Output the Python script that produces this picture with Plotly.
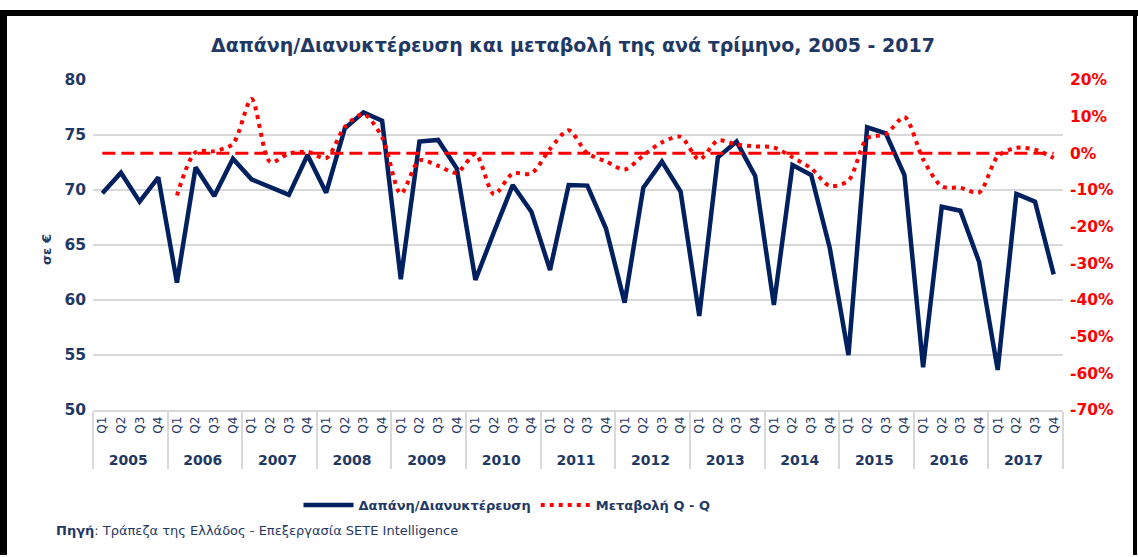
import plotly.graph_objects as go

# ---------------- data ----------------
years = [str(y) for y in range(2005, 2018)]
quarters = ["Q1", "Q2", "Q3", "Q4"]

# Δαπάνη/Διανυκτέρευση (σε €), 2005Q1 .. 2017Q4
spend = [69.7, 71.57, 68.94, 71.15,
         61.57, 72.06, 69.45, 72.85,
         70.97, 70.27, 69.55, 73.18,
         69.76, 75.6, 77.06, 76.3,
         61.88, 74.4, 74.55, 71.97,
         61.82, 66.2, 70.45, 68.03,
         62.73, 70.45, 70.4, 66.5,
         59.76, 70.2, 72.58, 69.85,
         58.55, 72.97, 74.4, 71.27,
         59.55, 72.27, 71.36, 64.7,
         55.0, 75.7, 75.15, 71.36,
         53.88, 68.48, 68.12, 63.48,
         53.64, 69.64, 68.94, 62.33]

# Μεταβολή Q - Q (%), 2006Q1 .. 2017Q4
change = [-11.5, 0.3, 0.6, 2.6,
          14.8, -2.4, -0.1, 0.4,
          -1.3, 7.2, 10.7, 4.4,
          -11.0, -1.9, -3.4, -5.3,
          -0.2, -11.2, -5.5, -5.5,
          1.2, 6.3, 0.0, -2.2,
          -4.4, -0.6, 3.0, 4.5,
          -1.7, 3.5, 2.4, 1.9,
          1.6, -1.1, -4.1, -8.9,
          -7.4, 4.1, 5.2, 9.9,
          -1.6, -9.0, -9.4, -10.7,
          -0.8, 1.5, 1.0, -1.3]
change_start_year = "2006"

left_ticks = [50, 55, 60, 65, 70, 75, 80]
right_ticks = [-70, -60, -50, -40, -30, -20, -10, 0, 10, 20]
right_labels = ["%d%%" % v for v in right_ticks]

# ---------------- style ----------------
NAVY = "#002060"
TXT = "#1F3864"
RED = "#FF0000"
GRID = "#D9D9D9"
FONT = "DejaVu Sans"

def year_label(y):
    return '<span style="font-size:14px"><b>%s</b></span>' % y

def quarter_label(q):
    return "\u00a0\u00a0" + q

x_year = [year_label(y) for y in years for q in quarters]
x_q = [quarter_label(q) for y in years for q in quarters]
start = years.index(change_start_year) * len(quarters)
cx_year = x_year[start:start + len(change)]
cx_q = x_q[start:start + len(change)]
baseline = [0.0] * len(x_q)

fig = go.Figure()
fig.add_trace(go.Scatter(
    x=[x_year, x_q], y=baseline, yaxis="y2", mode="lines",
    line=dict(color=RED, width=3, dash="13px,6px"),
    showlegend=False, hoverinfo="skip"))
fig.add_trace(go.Scatter(
    x=[x_year, x_q], y=spend, mode="lines", name="Δαπάνη/Διανυκτέρευση",
    line=dict(color=NAVY, width=4.5)))
fig.add_trace(go.Scatter(
    x=[cx_year, cx_q], y=change, yaxis="y2", mode="lines", name="Μεταβολή Q - Q",
    line=dict(color=RED, width=4, dash="4px,5px", shape="spline", smoothing=0.8)))

W, H = 1138, 557
L, R, T, B = 93, 75, 80, 147
pw, ph = W - L - R, H - T - B

def xp(px):
    return (px - L) / pw

def yp(py):
    return (H - B - py) / ph

shapes = [
    dict(type="rect", xref="paper", yref="paper", x0=xp(0), x1=xp(W), y0=yp(16), y1=yp(10),
         fillcolor="black", line=dict(width=0), layer="above"),
    dict(type="rect", xref="paper", yref="paper", x0=xp(0), x1=xp(7), y0=yp(555), y1=yp(10),
         fillcolor="black", line=dict(width=0), layer="above"),
    dict(type="rect", xref="paper", yref="paper", x0=xp(1133), x1=xp(1137), y0=yp(555), y1=yp(10),
         fillcolor="black", line=dict(width=0), layer="above"),
]

fig.update_layout(
    width=W, height=H,
    margin=dict(l=L, r=R, t=T, b=B),
    paper_bgcolor="white", plot_bgcolor="white",
    font=dict(family=FONT, color=TXT),
    title=dict(text="<b>Δαπάνη/Διανυκτέρευση και μεταβολή της ανά τρίμηνο, 2005 - 2017</b>",
               font=dict(family=FONT, size=19, color=TXT),
               x=573 / W, xanchor="center", y=1 - 45 / H, yanchor="middle", xref="container", yref="container"),
    xaxis=dict(range=[-0.5, len(x_q) - 0.5], tickangle=-90,
               tickfont=dict(family=FONT, size=12, color=TXT),
               showdividers=True, dividercolor=GRID, dividerwidth=1.5,
               showline=True, linecolor=GRID, linewidth=1.5, showgrid=False,
               ticks="", automargin=False),
    yaxis=dict(range=[50, 80], tickvals=left_ticks, showgrid=True, gridcolor=GRID, gridwidth=1.5,
               zeroline=False, showline=False,
               tickfont=dict(family=FONT, size=15.5, color=TXT, weight="bold"),
               ticklabelstandoff=6, automargin=False),
    yaxis2=dict(range=[-70, 20], tickvals=right_ticks, ticktext=right_labels, overlaying="y", side="right",
                showgrid=False, zeroline=False, showline=False,
                tickfont=dict(family=FONT, size=15.5, color=RED, weight="bold"),
                ticklabelstandoff=6, automargin=False),
    legend=dict(orientation="h", x=xp(507), xanchor="center", y=yp(505), yanchor="middle",
                font=dict(family=FONT, size=13, color=TXT, weight="bold"),
                itemwidth=50, bgcolor="rgba(0,0,0,0)"),
    shapes=shapes,
    annotations=[
        dict(text="<b>σε €</b>", xref="paper", yref="paper", x=xp(46), y=yp(250),
             textangle=-90, showarrow=False, font=dict(family=FONT, size=13, color=TXT),
             xanchor="center", yanchor="middle"),
        dict(text="<b>Πηγή</b>: Τράπεζα της Ελλάδος - Επεξεργασία SETE Intelligence",
             xref="paper", yref="paper", x=xp(54), y=yp(530), xanchor="left", yanchor="middle",
             showarrow=False, font=dict(family=FONT, size=13, color=TXT)),
    ],
)

fig.write_html("out.html", config={"displayModeBar": False},
               post_script="document.body.style.margin='0';")
